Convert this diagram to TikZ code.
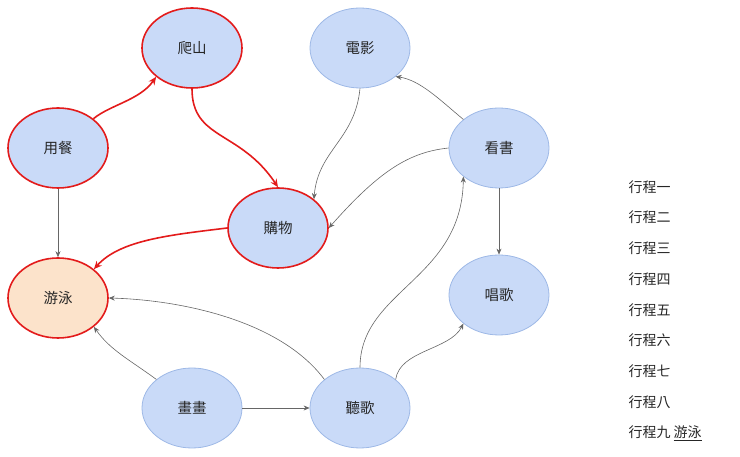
\documentclass[tikz,border=0pt]{standalone}
\usepackage{fontspec}
\setmainfont{Noto Sans CJK TC}
\usetikzlibrary{arrows.meta,shapes.geometric}
\definecolor{nfill}{HTML}{C9DAF8}
\definecolor{nline}{HTML}{9DB8E6}
\definecolor{rline}{HTML}{E31B1B}
\definecolor{ofill}{HTML}{FCE3CB}
\definecolor{gline}{HTML}{666666}
\tikzset{
 nd/.style={ellipse,draw=nline,fill=nfill,line width=0.8pt,minimum width=100pt,minimum height=80pt,font=\fontsize{14.5}{17}\selectfont,text=black!85},
 rnd/.style={nd,draw=rline,line width=1.6pt},
 ge/.style={draw=gline,line width=0.6pt,-{Stealth[length=6pt,width=5pt]}},
 re/.style={draw=rline,line width=1.6pt,-{Stealth[length=8pt,width=7pt]}},
 lst/.style={anchor=west,font=\fontsize{14}{16}\selectfont,text=black!85}
}
\begin{document}
\begin{tikzpicture}[x=1pt,y=-1pt]
\useasboundingbox (0,0) rectangle (740,457);
\node[rnd] (pa) at (192,48) {爬山};
\node[nd] (dy) at (360,48) {電影};
\node[rnd] (yc) at (58,148) {用餐};
\node[nd] (ks) at (499,148) {看書};
\node[rnd] (gw) at (278,228) {購物};
\node[rnd,fill=ofill] (yy) at (58,298) {游泳};
\node[nd] (cg) at (499,295) {唱歌};
\node[nd] (hh) at (192,408) {畫畫};
\node[nd] (tg) at (360,408) {聽歌};
\draw[re] (yc) .. controls (110,105) and (140,100) .. (pa.south west);
\draw[re] (pa.south) .. controls (192,140) and (240,130) .. (gw.north);
\draw[re] (gw.west) .. controls (170,235) and (120,240) .. (yy.north east);
\draw[ge] (yc) -- (yy);
\draw[ge] (dy.south) .. controls (355,140) and (318,150) .. (gw.north east);
\draw[ge] (ks.north west) .. controls (440,100) and (420,80) .. (dy.south east);
\draw[ge] (ks.west) .. controls (410,152) and (380,170) .. (gw.east);
\draw[ge] (ks) -- (cg);
\draw[ge] (tg.north) .. controls (360,290) and (462,280) .. (ks.south west);
\draw[ge] (tg.north east) .. controls (400,350) and (450,350) .. (cg.south west);
\draw[ge] (tg.north west) .. controls (280,320) and (180,300) .. (yy.east);
\draw[ge] (hh.north west) .. controls (130,360) and (110,350) .. (yy.south east);
\draw[ge] (hh) -- (tg);
\node[lst] (l1) at (625,187) {行程一};
\node[lst] (l2) at (625,217) {行程二};
\node[lst] (l3) at (625,248) {行程三};
\node[lst] (l4) at (625,279) {行程四};
\node[lst] (l5) at (625,310) {行程五};
\node[lst] (l6) at (625,340) {行程六};
\node[lst] (l7) at (625,371) {行程七};
\node[lst] (l8) at (625,402) {行程八};
\node[lst] (l9) at (625,433) {行程九 \underline{游泳}};
\end{tikzpicture}
\end{document}
